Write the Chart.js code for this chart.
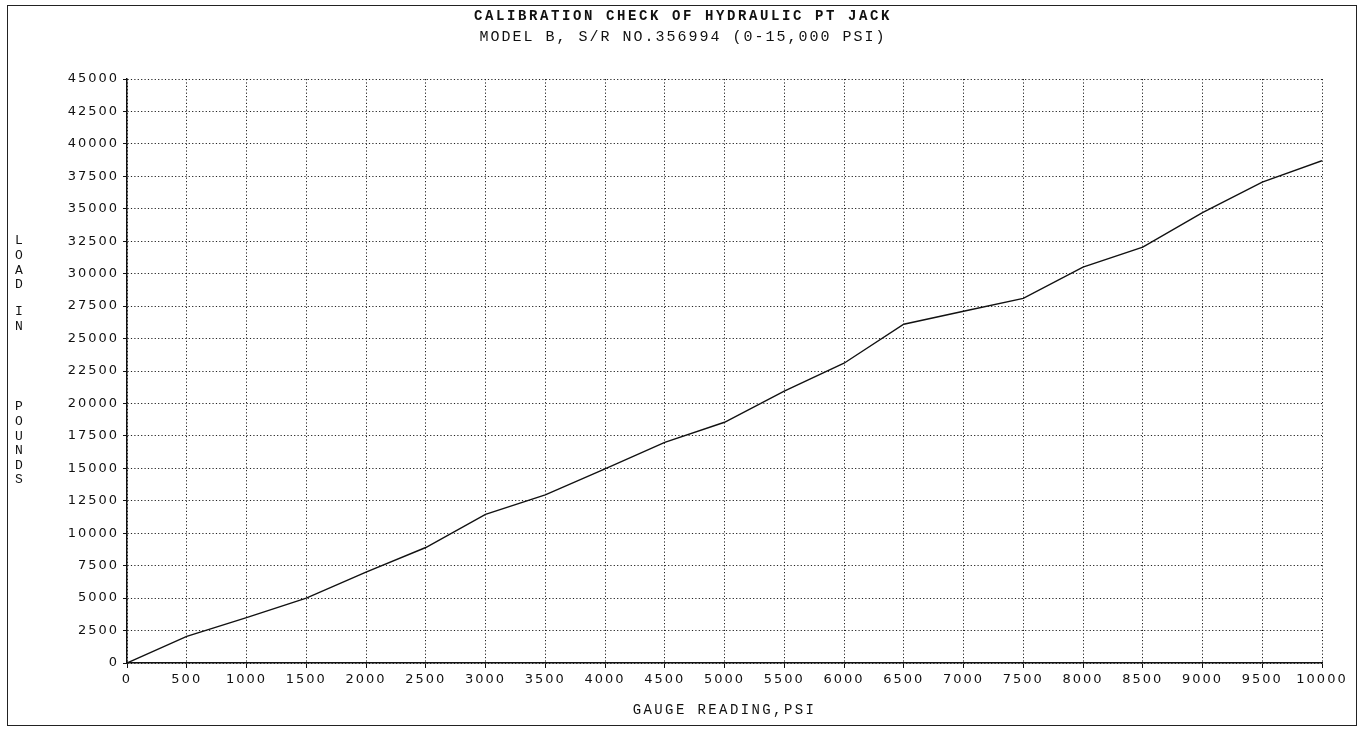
<!DOCTYPE html>
<html>
<head>
<meta charset="utf-8">
<title>Calibration check of hydraulic PT jack</title>
<script src="https://cdn.jsdelivr.net/npm/chart.js@4.4.1/dist/chart.umd.min.js"></script>
<style>
    html, body { margin: 0; padding: 0; background: #fff; }
    #wrap { position: relative; width: 1362px; height: 729px; }
    #frame { position: absolute; left: 7px; top: 5px; width: 1348px; height: 719px; border: 1.5px solid #222; pointer-events: none; }
</style>
</head>
<body>
<div id="wrap">
    <canvas id="calChart" width="1362" height="729"></canvas>
    <div id="frame"></div>
</div>
<script>
        // gauge readings (psi) and measured load (lb)
        const gaugePsi = [0, 500, 1000, 1500, 2000, 2500, 3000, 3500, 4000, 4500, 5000,
                          5500, 6000, 6500, 7000, 7500, 8000, 8500, 9000, 9500, 10000];
        const loadLb = [0, 2050, 3500, 5000, 7000, 8900, 11450, 12950, 14950, 17000, 18550,
                        20950, 23100, 26100, 27100, 28100, 30500, 32050, 34700, 37050, 38700];

        const xTicks = [0, 500, 1000, 1500, 2000, 2500, 3000, 3500, 4000, 4500, 5000,
                        5500, 6000, 6500, 7000, 7500, 8000, 8500, 9000, 9500, 10000];
        const yTicks = [0, 2500, 5000, 7500, 10000, 12500, 15000, 17500, 20000, 22500,
                        25000, 27500, 30000, 32500, 35000, 37500, 40000, 42500, 45000];

        const titleText = 'CALIBRATION CHECK OF HYDRAULIC PT JACK';
        const subtitleText = 'MODEL B, S/R NO.356994 (0-15,000 PSI)';
        const xTitleText = 'GAUGE READING,PSI';
        const yTitleWords = ['LOAD', 'IN', 'POUNDS'];

        // tick labels in the scan are spread out a bit
        const spacingPlugin = {
            id: 'spacing',
            beforeUpdate(chart) { chart.ctx.letterSpacing = '2px'; },
            beforeDraw(chart) { chart.ctx.letterSpacing = '2px'; }
        };

        // title, subtitle and axis titles drawn by hand (stacked y label)
        const textPlugin = {
            id: 'texts',
            afterDraw(chart) {
                const ctx = chart.ctx;
                const area = chart.chartArea;
                const mid = (area.left + area.right) / 2;
                ctx.save();
                ctx.fillStyle = '#111';
                ctx.textAlign = 'center';
                ctx.textBaseline = 'middle';

                ctx.letterSpacing = '2.6px';
                ctx.font = 'bold 14px "Liberation Mono"';
                ctx.fillText(titleText, chart.width / 2 + 2, 16);

                ctx.letterSpacing = '2px';
                ctx.font = '15px "Liberation Mono"';
                ctx.fillText(subtitleText, chart.width / 2 + 2, 37);

                ctx.letterSpacing = '2.4px';
                ctx.font = '14px "Liberation Mono"';
                ctx.fillText(xTitleText, mid, 710);

                ctx.letterSpacing = '0px';
                ctx.font = '13px "Liberation Mono"';
                const starts = [241, 312, 407];
                yTitleWords.forEach((w, i) => {
                    w.split('').forEach((ch, j) => {
                        ctx.fillText(ch, 19, starts[i] + j * 14.6);
                    });
                });
                ctx.restore();
            }
        };

        // dotted grid, solid axis lines
        const gridDash = (c) => (c.type === 'scale' ? [] : [1.2, 2.2]);

        const ctx = document.getElementById('calChart').getContext('2d');
        const chart = new Chart(ctx, {
            type: 'line',
            data: {
                datasets: [{
                    data: gaugePsi.map((g, i) => ({ x: g, y: loadLb[i] })),
                    borderColor: '#111',
                    borderWidth: 1.4,
                    pointRadius: 0,
                    tension: 0,
                    fill: false
                }]
            },
            options: {
                responsive: false,
                animation: false,
                devicePixelRatio: 1,
                layout: { padding: { top: 79, right: 40, bottom: 0, left: 0 } },
                plugins: {
                    legend: { display: false },
                    tooltip: { enabled: false }
                },
                scales: {
                    x: {
                        type: 'linear',
                        min: 0,
                        max: 10000,
                        afterBuildTicks: (scale) => { scale.ticks = xTicks.map(v => ({ value: v })); },
                        afterFit: (scale) => { scale.height = 66; },
                        border: { display: true, color: '#111', width: 1.5, dash: gridDash },
                        grid: {
                            color: '#222',
                            lineWidth: 1,
                            tickBorderDash: [],
                            tickColor: '#111',
                            tickLength: 5
                        },
                        ticks: {
                            color: '#111',
                            padding: 4,
                            maxRotation: 0,
                            autoSkip: false,
                            callback: (v) => String(v),
                            font: { family: 'DejaVu Sans', size: 13 }
                        }
                    },
                    y: {
                        min: 0,
                        max: 45000,
                        afterBuildTicks: (scale) => { scale.ticks = yTicks.map(v => ({ value: v })); },
                        afterFit: (scale) => { scale.width = 127; },
                        border: { display: true, color: '#111', width: 1.5, dash: gridDash },
                        grid: {
                            color: '#222',
                            lineWidth: 1,
                            tickBorderDash: [],
                            tickColor: '#111',
                            tickLength: 4
                        },
                        ticks: {
                            color: '#111',
                            padding: 4,
                            autoSkip: false,
                            callback: (v) => String(v),
                            font: { family: 'DejaVu Sans', size: 13 }
                        }
                    }
                }
            },
            plugins: [spacingPlugin, textPlugin]
        });
</script>
</body>
</html>
